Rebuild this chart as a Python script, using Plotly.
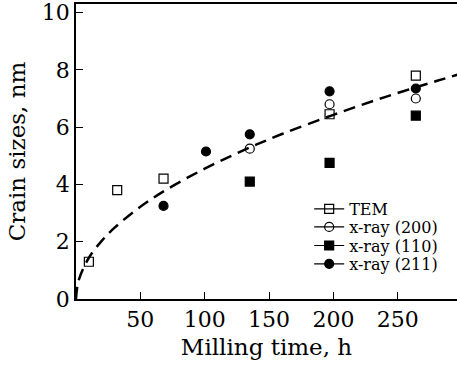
import plotly.graph_objects as go

# Data
tem_x = [10, 32, 68, 197, 264]
tem_y = [1.3, 3.8, 4.2, 6.45, 7.8]
x200_x = [135, 197, 264]
x200_y = [5.25, 6.8, 7.0]
x110_x = [135, 197, 264]
x110_y = [4.1, 4.75, 6.4]
x211_x = [68, 101, 135, 197, 264]
x211_y = [3.25, 5.15, 5.75, 7.25, 7.35]
fit_x = [0, 2, 10, 20, 30, 50, 70, 100, 130, 160, 200, 240, 280, 300]
fit_y = [0, 0.64, 1.44, 2.03, 2.49, 3.22, 3.81, 4.55, 5.19, 5.76, 6.43, 7.05, 7.61, 7.88]

FONT = "DejaVu Serif"
fig = go.Figure()
fig.add_trace(go.Scatter(x=fit_x, y=fit_y, mode="lines", line_shape="spline",
                         line=dict(color="black", width=2.5, dash="12px,7px"),
                         showlegend=False))

def add(x, y, name, symbol, leg):
    marker = dict(symbol=symbol, size=9, color="black",
                  line=dict(color="black", width=1.2))
    fig.add_trace(go.Scatter(x=x, y=y, mode="markers", name=name,
                             marker=marker, showlegend=False))
    # legend entry (line + marker), no data drawn
    fig.add_trace(go.Scatter(x=[None], y=[None], mode="lines+markers", name=name,
                             line=dict(color="black", width=1.2),
                             marker=marker, legend=leg))

add(tem_x, tem_y, "TEM", "square-open", "legend")
add(x200_x, x200_y, "x-ray (200)", "circle-open", "legend2")
add(x110_x, x110_y, "x-ray (110)", "square", "legend3")
add(x211_x, x211_y, "x-ray (211)", "circle", "legend4")

leg_common = dict(xanchor="left", yanchor="middle", bgcolor="rgba(0,0,0,0)",
                  font=dict(family=FONT, size=16, color="black"), borderwidth=0)
lx = 0.612
fig.update_layout(
    legend=dict(x=lx, y=0.305, **leg_common),
    legend2=dict(x=lx, y=0.244, **leg_common),
    legend3=dict(x=lx, y=0.181, **leg_common),
    legend4=dict(x=lx, y=0.119, **leg_common),
)

fig.update_layout(
    width=457, height=365,
    margin=dict(l=76, r=0, t=4, b=66),
    paper_bgcolor="white", plot_bgcolor="white",
    font=dict(family=FONT, color="black"),
    xaxis=dict(range=[0, 296], tickvals=[50, 100, 150, 200, 250],
               ticks="inside", ticklen=7, tickwidth=1.2, tickcolor="black",
               showline=True, linecolor="black", linewidth=1.5, mirror=True,
               showgrid=False, zeroline=False,
               tickfont=dict(family=FONT, size=22, color="black"),
               title=dict(text="Milling time, h", font=dict(family=FONT, size=23, color="black"), standoff=8)),
    yaxis=dict(range=[0, 10.3], tickvals=[0, 2, 4, 6, 8, 10],
               ticks="inside", ticklen=7, tickwidth=1.2, tickcolor="black",
               showline=True, linecolor="black", linewidth=1.5, mirror=False,
               showgrid=False, zeroline=False,
               tickfont=dict(family=FONT, size=22, color="black"),
               title=dict(text="Crain sizes, nm", font=dict(family=FONT, size=23, color="black"), standoff=10)),
)
fig.write_html("out.html")
